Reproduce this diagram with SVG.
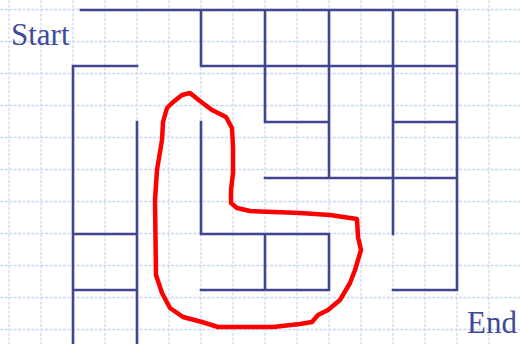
<svg xmlns="http://www.w3.org/2000/svg" width="520" height="344" viewBox="0 0 520 344">
<style>
.grid line{stroke:#c9d6f6;stroke-width:1.2;stroke-dasharray:3 1.5}
.grid .h{stroke-width:1.6}
.wall{stroke:#40458f;stroke-width:2.6;stroke-linecap:square;fill:none}
.loop{stroke:#ff0000;stroke-width:4.5;fill:none;stroke-linejoin:round;stroke-linecap:round}
.lbl{font-family:"Liberation Serif","Times New Roman",serif;font-size:31px;fill:#404a96}
</style>
<rect width="520" height="344" fill="#ffffff"/>
<g class="grid" id="grid">
<line x1="9" y1="0" x2="9" y2="344"/><line x1="41" y1="0" x2="41" y2="344"/><line x1="73" y1="0" x2="73" y2="344"/><line x1="105" y1="0" x2="105" y2="344"/><line x1="137" y1="0" x2="137" y2="344"/><line x1="169" y1="0" x2="169" y2="344"/><line x1="201" y1="0" x2="201" y2="344"/><line x1="233" y1="0" x2="233" y2="344"/><line x1="265" y1="0" x2="265" y2="344"/><line x1="297" y1="0" x2="297" y2="344"/><line x1="329" y1="0" x2="329" y2="344"/><line x1="361" y1="0" x2="361" y2="344"/><line x1="393" y1="0" x2="393" y2="344"/><line x1="425" y1="0" x2="425" y2="344"/><line x1="457" y1="0" x2="457" y2="344"/><line x1="489" y1="0" x2="489" y2="344"/>
<line class="h" x1="0" y1="9.5" x2="520" y2="9.5"/><line class="h" x1="0" y1="41.5" x2="520" y2="41.5"/><line class="h" x1="0" y1="73.5" x2="520" y2="73.5"/><line class="h" x1="0" y1="105.5" x2="520" y2="105.5"/><line class="h" x1="0" y1="137.5" x2="520" y2="137.5"/><line class="h" x1="0" y1="169.5" x2="520" y2="169.5"/><line class="h" x1="0" y1="201.5" x2="520" y2="201.5"/><line class="h" x1="0" y1="233.5" x2="520" y2="233.5"/><line class="h" x1="0" y1="265.5" x2="520" y2="265.5"/><line class="h" x1="0" y1="297.5" x2="520" y2="297.5"/><line class="h" x1="0" y1="329.5" x2="520" y2="329.5"/>
</g>
<g id="maze">
<path class="wall" d="M81 10H457 M201 10V66 M201 66H457 M265 10V122 M329 10V178 M393 10V234 M457 10V290 M265 122H329 M393 122H457 M265 178H457 M73 66H137 M73 66V344 M137 122V344 M201 122V234 M73 234H137 M73 290H137 M201 234H329 M201 290H329 M265 234V290 M329 234V290 M393 290H457"/>
</g>
<g id="solution">
<path class="loop" d="M190 93 L200 101 L212 110 L226 117 L232 128 L233 147 L233 173 L231 190 L231 203 L237 208 L250 211 L300 213 L330 215 L357 219 L358 237 L361 250 L355 270 L350 283 L340 300 L328 310 L318 315 L312 322 L300 324 L273 327 L218 327 L202 322 L183 317 L170 308 L162 293 L156 275 L155 200 L157 170 L162 140 L163 122 L167 108 L172 103 L182 95 Z"/>
</g>
<g id="start"><text class="lbl" x="11" y="45">Start</text></g>
<g id="end"><text class="lbl" x="467" y="333">End</text></g>
</svg>
